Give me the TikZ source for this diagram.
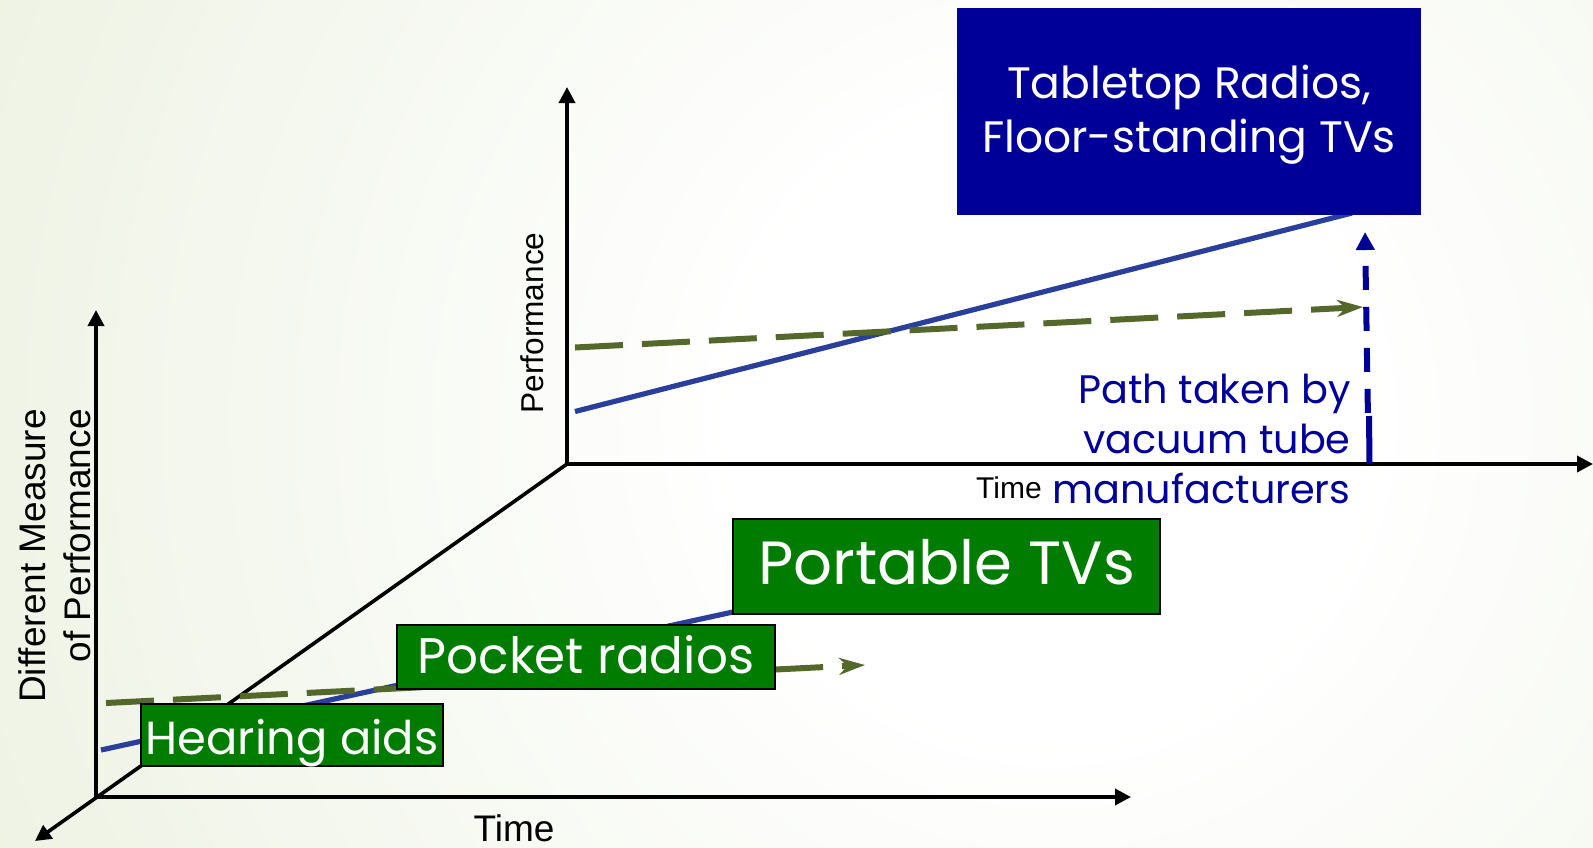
\documentclass[tikz,border=0pt]{standalone}
\usepackage{fontspec}
\setmainfont{Liberation Sans}
\newfontfamily\gothic{Poppins}
\usetikzlibrary{arrows.meta}
\definecolor{bggreen}{RGB}{222,232,204}
\definecolor{boxblue}{RGB}{0,0,153}
\definecolor{lineblue}{RGB}{41,63,155}
\definecolor{oliveline}{RGB}{84,104,44}
\definecolor{boxgreen}{RGB}{0,125,0}
\pgfdeclareradialshading{bgshade}{\pgfpoint{0bp}{0bp}}{color(0bp)=(white); color(6bp)=(white); color(36bp)=(bggreen); color(50bp)=(bggreen)}
\tikzset{
  axis/.style={line width=1.8pt, draw=black},
  axtip/.tip={Triangle[length=8pt,width=8pt]},
  bline/.style={draw=lineblue, line width=2.6pt},
  gdash/.style={draw=oliveline, line width=3pt, dash pattern=on 24pt off 9.5pt, -{Stealth[length=13pt,width=8.5pt]}},
  vdash/.style={draw=boxblue, line width=3pt, dash pattern=on 12pt off 8.5pt, dash phase=12pt, {Triangle[length=9pt,width=9pt]}-},
  vsolid/.style={draw=boxblue, line width=3pt},
  gbox/.style={draw=black, line width=1pt, fill=boxgreen, text=white, inner sep=0pt},
}
\begin{document}
\begin{tikzpicture}[x=0.5pt,y=-0.5pt]
\useasboundingbox (0,0) rectangle (1593,847);
\begin{scope}
\clip (0,0) rectangle (1593,847);
\shade[shading=bgshade] (1050,420) circle (1300);
\end{scope}
% coordinates
\coordinate (O2) at (567,464);
\coordinate (Y2) at (567,87);
\coordinate (X2) at (1593,464);
\coordinate (O1) at (96,797);
\coordinate (Y1) at (96,310);
\coordinate (X1) at (1131,797);
\coordinate (Z) at (35,841);
% axes
\draw[axis, axtip-axtip] (Y2) -- (O2) -- (X2);
\draw[axis, -axtip] (O2) -- (Z);
\draw[axis, axtip-axtip] (Y1) -- (O1) -- (X1);
% upper lines
\coordinate (ub0) at (575,411.5);
\coordinate (ub1) at (1352,213);
\coordinate (ug0) at (575,347.5);
\coordinate (ug1) at (1363,307);
\coordinate (uv1) at (1365,232);
\coordinate (uvm) at (1368,420);
\coordinate (uvs) at (1369,416);
\coordinate (uv0) at (1369.5,464);
\draw[bline] (ub0) -- (ub1);
\draw[gdash] (ug0) -- (ug1);
\draw[vdash] (uv1) -- (uvm);
\draw[vsolid] (uvs) -- (uv0);
% lower lines
\coordinate (lb0) at (101,750);
\coordinate (lb1) at (742,610);
\coordinate (lg0) at (106,703);
\coordinate (lg1) at (865,665);
\draw[bline] (lb0) -- (lb1);
\draw[gdash] (lg0) -- (lg1);
% labels
\node[font=\fontsize{15.8}{19}\selectfont, rotate=90] (perf) at (532,323) {Performance};
\node[font=\fontsize{15}{17}\selectfont] (time2) at (1009,488) {Time};
\node[font=\fontsize{18.5}{22}\selectfont] (time1) at (514,828) {Time};
\node[font=\fontsize{18.5}{22.5}\selectfont, rotate=90, align=right] (dmp) at (55,556) {Different Measure\\of Performance};
\node[font=\gothic\fontsize{19.9}{25}\selectfont, text=boxblue, align=right, anchor=north east, inner sep=0pt] (path) at (1351,374) {Path taken by\\vacuum tube\\manufacturers};
% boxes
\node[fill=boxblue, text=white, minimum width=232pt, minimum height=103.5pt, inner sep=0pt, align=center, font=\gothic\fontsize{22}{27}\selectfont] (tt) at (1189,111.5) {\rule{0pt}{20pt}Tabletop Radios,\\Floor-standing TVs};
\node[gbox, minimum width=213.5pt, minimum height=47.5pt, text height=20pt, text depth=2.5pt, font=\gothic\fontsize{30.5}{36}\selectfont] (ptv) at (946.5,566.5) {Portable TVs};
\node[gbox, minimum width=189pt, minimum height=32pt, text height=18pt, text depth=2pt, font=\gothic\fontsize{25}{30}\selectfont] (pr) at (586,657) {Pocket radios};
\node[gbox, minimum width=151pt, minimum height=31pt, text height=20pt, text depth=1pt, font=\gothic\fontsize{23.2}{28}\selectfont] (ha) at (292,735) {Hearing aids};
\end{tikzpicture}
\end{document}
